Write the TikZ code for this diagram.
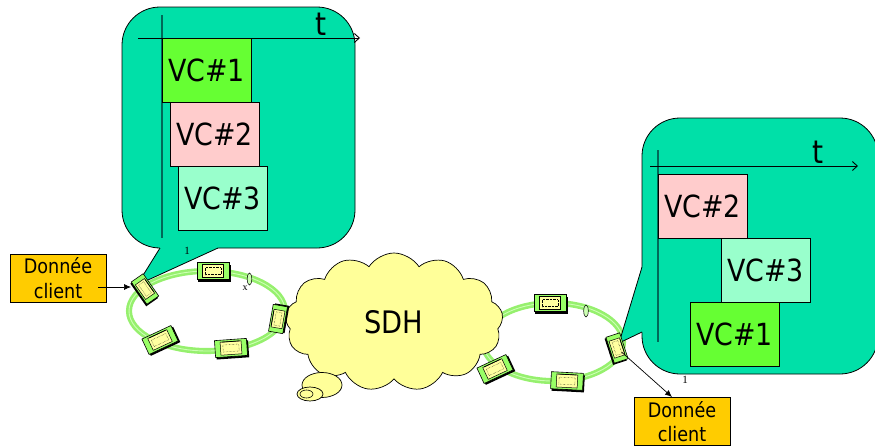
\documentclass[tikz,border=0pt]{standalone}
\usepackage{fontspec}
\setmainfont{DejaVu Sans}[FakeStretch=0.88]
\newfontfamily\numfont{Liberation Serif}
\usetikzlibrary{shapes.symbols,arrows.meta}

\definecolor{bubblefill}{RGB}{0,224,168}
\definecolor{axisteal}{RGB}{0,105,88}
\definecolor{vcgreen}{RGB}{102,255,51}
\definecolor{vcpink}{RGB}{255,204,204}
\definecolor{vcmint}{RGB}{153,255,204}
\definecolor{clientorange}{RGB}{255,204,0}
\definecolor{cloudyellow}{RGB}{255,255,153}
\definecolor{ringgreen}{RGB}{150,240,110}
\definecolor{ringpale}{RGB}{205,255,180}
\definecolor{admgreen}{RGB}{153,255,102}
\definecolor{admbody}{RGB}{255,255,160}

\begin{document}
\begin{tikzpicture}[x=1pt,y=-1pt,
  callout/.style={draw=black, line width=0.8pt, fill=bubblefill},
  timeaxis/.style={draw=black, line width=0.9pt, -{Straight Barb[length=5pt,width=9pt]}},
  vaxis/.style={draw=axisteal, line width=1.5pt},
  vcbox/.style={draw=black, line width=0.7pt, minimum width=89pt, minimum height=64pt,
                inner sep=0pt, font=\fontsize{30.5}{32}\selectfont},
  tlabel/.style={font=\fontsize{32}{34}\selectfont, anchor=base, inner sep=0pt},
  clientbox/.style={draw=black, line width=0.8pt, fill=clientorange, minimum width=96pt,
                    minimum height=48pt, inner sep=0pt, align=center,
                    font=\fontsize{20}{24.5}\selectfont},
  ring/.style={draw=ringgreen, double=ringpale, double distance=0.9pt, line width=2.6pt},
  flow/.style={draw=black, line width=0.7pt, -{Latex[length=7pt,width=6pt]}},
  smalllabel/.style={font=\numfont\fontsize{11}{11}\selectfont, inner sep=0pt},
  pics/adm/.style={code={
    \fill[black] (-15,-6.5) rectangle (17.5,10.5);
    \draw[fill=admgreen, line width=0.6pt] (-16,-8.5) rectangle (16,8.5);
    \draw[fill=admbody, line width=0.5pt] (-10.5,-6.5) rectangle (10.5,6.5);
    \draw[line width=0.4pt, densely dotted] (-8,-3.5) rectangle (8,3.5);
    \draw[line width=0.7pt] (-9,-6.5) -- (9,-6.5);
  }}
]
\useasboundingbox (0,0) rectangle (875,447);

% fibre rings
\draw[ring] (207,311) ellipse [x radius=78, y radius=40];
\draw[ring] (553,342) ellipse [x radius=70, y radius=39];

% SDH cloud with its small trailing puffs
\node[cloud, cloud puffs=13, cloud puff arc=115, aspect=1.6, draw=black, line width=0.7pt,
      fill=cloudyellow, minimum width=218pt, minimum height=138pt, inner sep=0pt,
      font=\fontsize{31}{32}\selectfont] (sdh) at (394,322) {SDH};
\draw[line width=0.7pt, fill=cloudyellow] (322,385) ellipse [x radius=20, y radius=12.5];
\draw[line width=0.7pt, fill=cloudyellow] (310,394) ellipse [x radius=13, y radius=7];
\draw[line width=0.6pt, fill=cloudyellow] (306.5,394) ellipse [x radius=6.5, y radius=4];

% left speech bubble
\draw[callout, rounded corners=38pt] (122,7) rectangle (355,248);
\fill[bubblefill] (159,244) -- (160,248) -- (137,285) -- (218,248) -- (219,244) -- cycle;
\draw[line width=0.8pt, line join=round] (160,248) -- (137,285) -- (218,248);

% right speech bubble
\draw[callout, rounded corners=38pt] (642,118) rectangle (878,374);
\fill[bubblefill] (646,265) -- (642,267) -- (619,343) -- (642,332) -- (646,334) -- cycle;
\draw[line width=0.8pt, line join=round] (642,267) -- (619,343) -- (642,332);

% left timeline
\coordinate (lax0) at (162,15);
\coordinate (lax1) at (162,238);
\coordinate (lt0) at (138,38);
\coordinate (lt1) at (360,38);
\draw[vaxis] (lax0) -- (lax1);
\draw[timeaxis] (lt0) -- (lt1);
\node[tlabel] (ltl) at (321,35) {t};
\node[vcbox, fill=vcgreen] (lvc1) at (206.5,70) {VC\#1};
\node[vcbox, fill=vcpink]  (lvc2) at (214.5,134.5) {VC\#2};
\node[vcbox, fill=vcmint]  (lvc3) at (222.5,198.5) {VC\#3};
\node[smalllabel] (lone) at (187,251) {1};

% right timeline
\coordinate (rax0) at (658,150);
\coordinate (rax1) at (658,342);
\coordinate (rt0) at (650,166);
\coordinate (rt1) at (858,166);
\draw[vaxis] (rax0) -- (rax1);
\draw[timeaxis] (rt0) -- (rt1);
\node[tlabel] (rtl) at (818,163) {t};
\node[vcbox, fill=vcpink]  (rvc2) at (702.5,206) {VC\#2};
\node[vcbox, fill=vcmint]  (rvc3) at (765.5,270) {VC\#3};
\node[vcbox, fill=vcgreen] (rvc1) at (734.5,334) {VC\#1};
\node[smalllabel] (rone) at (685,380) {1};

% add-drop multiplexers on the left ring
\coordinate (dL1) at (145,289);
\coordinate (dL2) at (213,271);
\coordinate (dL3) at (278,319);
\coordinate (dL4) at (231,348);
\coordinate (dL5) at (160,340);
\pic[rotate=-55, scale=0.85] at (dL1) {adm};
\pic at (dL2) {adm};
\pic[rotate=80, scale=0.85] at (dL3) {adm};
\pic[rotate=4] at (dL4) {adm};
\pic[rotate=25] at (dL5) {adm};

% add-drop multiplexers on the right ring
\coordinate (dR1) at (550,303);
\coordinate (dR2) at (617,348);
\coordinate (dR3) at (567,381);
\coordinate (dR4) at (495,369);
\pic at (dR1) {adm};
\pic[rotate=-72, scale=0.85] at (dR2) {adm};
\pic[rotate=-3] at (dR3) {adm};
\pic[rotate=25] at (dR4) {adm};

% fibre markers
\draw[line width=0.5pt, fill=ringpale] (249.5,279) ellipse [x radius=2.3, y radius=6];
\node[font=\numfont\fontsize{10}{10}\selectfont, inner sep=0pt] (xmark) at (245,288) {x};
\draw[line width=0.5pt, fill=ringpale] (586,311) ellipse [x radius=2.3, y radius=6];

% client data in and out
\node[clientbox] (lbox) at (58,278) {Donnée\\client};
\node[clientbox] (rbox) at (682,421.5) {Donnée\\client};
\coordinate (lstart) at (98,287);
\coordinate (lend) at (131,287);
\draw[flow] (lstart) -- (lend);
\coordinate (rend) at (672,397);
\draw[flow, shorten <=6pt] (dR2) -- (rend);
\end{tikzpicture}
\end{document}
